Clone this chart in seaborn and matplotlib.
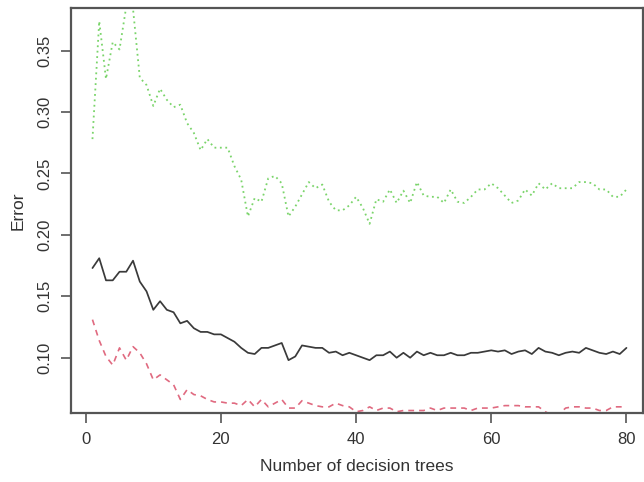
import numpy as np
import pandas as pd
import matplotlib
matplotlib.use("Agg")
import matplotlib.pyplot as plt
import seaborn as sns

# number of trees 1..80
trees = list(range(1, 81))

# OOB error (black solid)
oob_error = [
    0.173, 0.181, 0.163, 0.163, 0.170, 0.170, 0.179, 0.162, 0.154, 0.139,
    0.146, 0.139, 0.137, 0.128, 0.130, 0.124, 0.121, 0.121, 0.119, 0.119,
    0.116, 0.113, 0.108, 0.104, 0.103, 0.108, 0.108, 0.110, 0.112, 0.098,
    0.101, 0.110, 0.109, 0.108, 0.108, 0.104, 0.105, 0.102, 0.104, 0.102,
    0.100, 0.098, 0.102, 0.102, 0.105, 0.100, 0.104, 0.100, 0.105, 0.102,
    0.104, 0.102, 0.102, 0.104, 0.102, 0.102, 0.104, 0.104, 0.105, 0.106,
    0.105, 0.106, 0.103, 0.105, 0.106, 0.103, 0.108, 0.105, 0.104, 0.102,
    0.104, 0.105, 0.104, 0.108, 0.106, 0.104, 0.103, 0.105, 0.103, 0.108,
]

# class 1 error (red dashed)
class1_error = [
    0.131, 0.114, 0.101, 0.094, 0.108, 0.098, 0.109, 0.104, 0.095, 0.082,
    0.086, 0.082, 0.078, 0.066, 0.074, 0.070, 0.069, 0.066, 0.064, 0.064,
    0.063, 0.063, 0.061, 0.066, 0.060, 0.066, 0.060, 0.063, 0.066, 0.059,
    0.059, 0.065, 0.063, 0.061, 0.060, 0.060, 0.063, 0.061, 0.060, 0.056,
    0.057, 0.060, 0.057, 0.059, 0.059, 0.056, 0.057, 0.057, 0.057, 0.057,
    0.059, 0.057, 0.059, 0.059, 0.059, 0.059, 0.057, 0.059, 0.059, 0.059,
    0.060, 0.061, 0.061, 0.061, 0.060, 0.060, 0.060, 0.056, 0.053, 0.054,
    0.059, 0.060, 0.060, 0.059, 0.059, 0.057, 0.057, 0.060, 0.060, 0.060,
]

# class 2 error (green dotted)
class2_error = [
    0.278, 0.374, 0.327, 0.357, 0.351, 0.386, 0.384, 0.328, 0.322, 0.305,
    0.319, 0.310, 0.304, 0.306, 0.291, 0.283, 0.269, 0.278, 0.271, 0.271,
    0.271, 0.256, 0.245, 0.215, 0.230, 0.227, 0.246, 0.248, 0.242, 0.215,
    0.223, 0.233, 0.243, 0.238, 0.241, 0.227, 0.220, 0.220, 0.224, 0.231,
    0.222, 0.209, 0.229, 0.227, 0.237, 0.226, 0.236, 0.226, 0.243, 0.232,
    0.231, 0.231, 0.226, 0.237, 0.227, 0.226, 0.231, 0.237, 0.237, 0.242,
    0.238, 0.232, 0.226, 0.228, 0.237, 0.232, 0.242, 0.237, 0.242, 0.238,
    0.238, 0.238, 0.243, 0.243, 0.242, 0.237, 0.237, 0.231, 0.231, 0.237,
]

x_ticks = [0, 20, 40, 60, 80]
y_ticks = [0.10, 0.15, 0.20, 0.25, 0.30, 0.35]

df = pd.DataFrame({
    "trees": trees,
    "oob": oob_error,
    "class1": class1_error,
    "class2": class2_error,
})

sns.set_style("ticks")
plt.rcParams["font.family"] = ["Liberation Sans", "DejaVu Sans"]

fig = plt.figure(figsize=(6.44, 4.82), dpi=100)
ax = fig.add_axes([0.110, 0.1432, 0.889, 0.8396])

sns.lineplot(data=df, x="trees", y="oob", ax=ax, color="#3a3a3a",
             linewidth=1.25, linestyle="-")
sns.lineplot(data=df, x="trees", y="class1", ax=ax, color="#E06A80",
             linewidth=1.2)
ax.lines[-1].set_dashes((3.5, 3))
sns.lineplot(data=df, x="trees", y="class2", ax=ax, color="#7AD46A",
             linewidth=1.3)
ax.lines[-1].set_dashes((1, 2))

ax.set_xlim(-2.2, 82.5)
ax.set_ylim(0.055, 0.3845)
ax.set_xticks(x_ticks)
ax.set_yticks(y_ticks)
ax.set_xticklabels([str(t) for t in x_ticks])
ax.set_yticklabels([f"{t:.2f}" for t in y_ticks], rotation=90, va="center")

for s in ax.spines.values():
    s.set_color("#555555")
    s.set_linewidth(1.6)
ax.tick_params(direction="out", length=7, width=1.2, color="#555555",
               labelsize=12, labelcolor="#333333")
ax.tick_params(axis="x", pad=7)
ax.tick_params(axis="y", pad=6)

ax.set_xlabel("Number of decision trees", fontsize=12.5, color="#333333",
              labelpad=8)
ax.set_ylabel("Error", fontsize=12.5, color="#333333", labelpad=9)

fig.savefig("out.png", dpi=100)
